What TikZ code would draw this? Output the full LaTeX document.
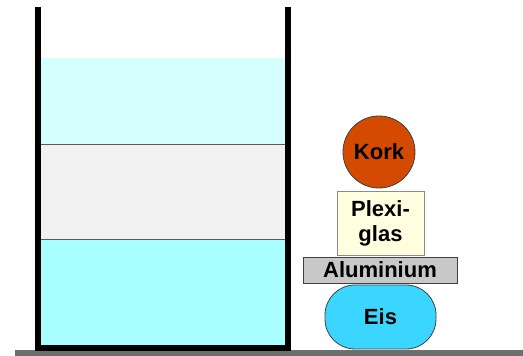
\documentclass[tikz,border=0pt]{standalone}
\usepackage{fontspec}
\setmainfont{Liberation Sans}
\definecolor{wasserhell}{HTML}{D5FFFF}
\definecolor{schicht}{HTML}{F1F1F1}
\definecolor{wasser}{HTML}{A9FFFF}
\definecolor{korkrot}{HTML}{D44A00}
\definecolor{plexigelb}{HTML}{FFFFE0}
\definecolor{alugrau}{HTML}{C8C8C8}
\definecolor{eisblau}{HTML}{3AD6FF}
\definecolor{boden}{HTML}{6E6E6E}
\tikzset{
  stoff/.style={draw=black!75,line width=0.8pt,inner sep=0pt,align=center,
    font=\fontsize{22}{25}\selectfont\bfseries},
}
\begin{document}
\begin{tikzpicture}[x=1pt,y=1pt]
\useasboundingbox (0,0) rectangle (523,356);
% Boden
\fill[boden] (15,0) rectangle (523,6);
% Schichten im Gefaess
\fill[wasserhell] (41,211) rectangle (285,298);
\fill[schicht] (41,116) rectangle (285,211);
\fill[wasser] (41,8) rectangle (285,116);
\draw[black!65,line width=1pt] (41,211) -- (285,211);
\draw[black!65,line width=1pt] (41,116) -- (285,116);
% Gefaess
\draw[line width=6pt] (38,349) -- (38,8) -- (288,8) -- (288,349);
% Stapel
\node[stoff,circle,fill=korkrot,minimum size=72pt] (kork) at (379,204) {Kork};
\node[stoff,fill=plexigelb,draw=black!45,minimum width=87pt,minimum height=64pt] (plexi) at (380.5,133) {Plexi-\\glas};
\node[stoff,fill=alugrau,minimum width=154pt,minimum height=26pt] (alu) at (380,86) {Aluminium};
\node[stoff,fill=eisblau,rounded corners=30pt,minimum width=111pt,minimum height=64pt] (eis) at (380.5,39) {Eis};
\end{tikzpicture}
\end{document}
